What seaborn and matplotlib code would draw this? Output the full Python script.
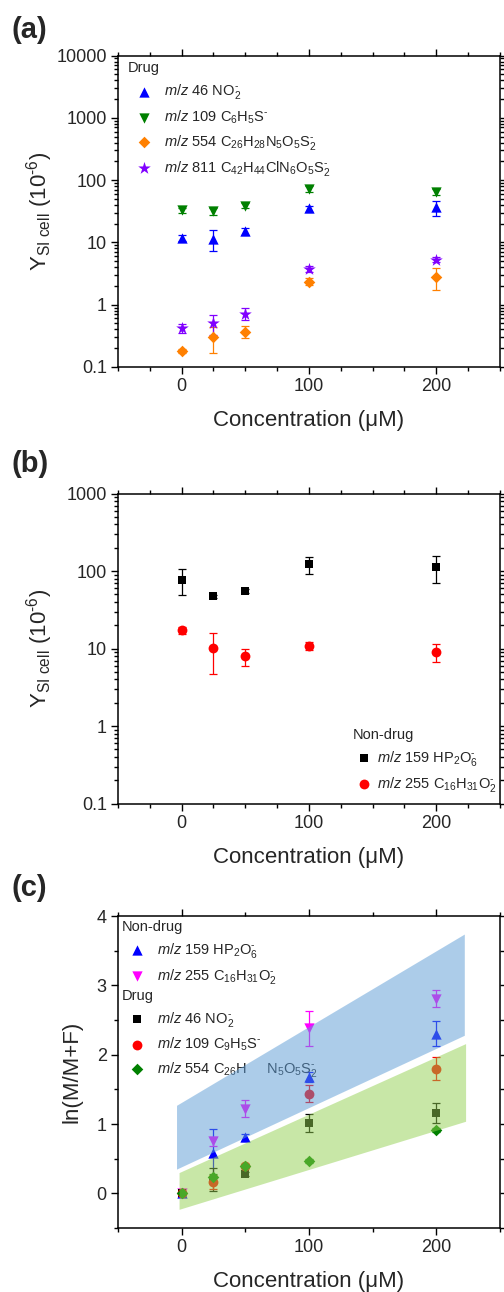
import numpy as np
import seaborn as sns
from matplotlib import pyplot as plt
from matplotlib import ticker

sns.set_style("ticks")
plt.rcParams['font.family'] = ['Liberation Sans', 'DejaVu Sans']
plt.rcParams['mathtext.fontset'] = 'custom'
plt.rcParams['mathtext.rm'] = 'Liberation Sans'
plt.rcParams['mathtext.it'] = 'Liberation Sans:italic'
plt.rcParams['mathtext.bf'] = 'Liberation Sans:bold'

# concentrations (uM)
conc = [0, 25, 50, 100, 200]

# (a) drug ions, Y_SI cell (1e-6)
a_no2 = [11.8, 11.5, 15, 35, 37]
a_no2_err = [1.2, 4.3, 2, 4, 10]
a_c6h5s = [33, 32, 39, 72, 65]
a_c6h5s_err = [3, 4, 4, 7, 7]
a_554 = [0.18, 0.30, 0.37, 2.35, 2.8]
a_554_err = [0.015, 0.13, 0.08, 0.3, 1.05]
a_811 = [0.42, 0.50, 0.72, 3.7, 5.3]
a_811_err = [0.07, 0.18, 0.15, 0.4, 0.5]

# (b) non-drug ions
b_hp2o6 = [77, 47, 55, 122, 113]
b_hp2o6_err = [28, 2, 3, 29, 42]
b_c16 = [17.2, 10.2, 8, 10.8, 9.1]
b_c16_err = [2, 5.5, 2, 1.3, 2.4]

# (c) ln(M/M+F)
c_hp2o6 = [0, 0.58, 0.81, 1.68, 2.30]
c_hp2o6_err = [0.02, 0.35, 0.05, 0.07, 0.18]
c_c16 = [0, 0.75, 1.22, 2.38, 2.81]
c_c16_err = [0.02, 0.07, 0.12, 0.25, 0.12]
c_no2 = [0, 0.20, 0.28, 1.01, 1.16]
c_no2_err = [0.02, 0.17, 0.03, 0.13, 0.14]
c_c9 = [0, 0.17, 0.39, 1.44, 1.80]
c_c9_err = [0.02, 0.1, 0.03, 0.12, 0.17]
c_554 = [0, 0.23, 0.39, 0.47, 0.91]
c_554_err = [0.02, 0.05, 0.03, 0.03, 0.03]

# shaded bands in (c)
blue_band_x = [-4, 222]
blue_band_lo = [0.35, 2.28]
blue_band_hi = [1.27, 3.74]
green_band_x = [-2, 223]
green_band_lo = [-0.23, 1.04]
green_band_hi = [0.30, 2.16]

MZ = r"$\it{m/z}$"
NEG = r"^{\text{-}}"
TICK_FS = 13
LABEL_FS = 16
LEG_FS = 10.5


def plot_series(ax, y, err, color, marker, size, label):
    ax.errorbar(conc, y, yerr=err, fmt='none', ecolor=color, elinewidth=0.9,
                capsize=3, capthick=0.9, zorder=2)
    sns.scatterplot(x=conc, y=y, marker=marker, color=color, s=size,
                    linewidth=0, ax=ax, label=label, zorder=2.2)


def style_axes(ax, minor_x):
    ax.set_xlim(-50, 250)
    ax.xaxis.set_major_locator(ticker.MultipleLocator(100))
    ax.xaxis.set_minor_locator(ticker.MultipleLocator(minor_x))
    ax.tick_params(which='both', direction='out', top=True, right=True,
                   labelsize=TICK_FS, width=1, color='black', pad=3)
    ax.tick_params(which='major', length=5)
    ax.tick_params(which='minor', length=3)
    for sp in ax.spines.values():
        sp.set_linewidth(1.1)
        sp.set_color('black')
    ax.set_xlabel("Concentration (μM)", fontsize=LABEL_FS, labelpad=11)


def log_axis(ax, lo, hi):
    ax.set_yscale('log')
    ax.set_ylim(lo, hi)
    ax.yaxis.set_major_locator(ticker.LogLocator(base=10, numticks=10))
    ax.yaxis.set_minor_locator(ticker.LogLocator(base=10, subs=np.arange(2, 10), numticks=10))
    ax.yaxis.set_major_formatter(ticker.FuncFormatter(lambda v, _: f"{v:g}"))
    ax.yaxis.set_minor_formatter(ticker.NullFormatter())


def make_legend(ax, handles, labels, title, loc, anchor, hl, htp):
    leg = ax.legend(handles, labels, title=title, loc=loc, bbox_to_anchor=anchor,
                    frameon=False, fontsize=LEG_FS, title_fontsize=LEG_FS,
                    handlelength=hl, handletextpad=htp, labelspacing=0.48,
                    borderaxespad=0.0, borderpad=0.25, alignment='left')
    leg.set_zorder(2.5)
    return leg


fig = plt.figure(figsize=(5.04, 12.92), dpi=100)
ax_a = fig.add_axes([0.234, 0.716, 0.758, 0.241])
ax_b = fig.add_axes([0.234, 0.378, 0.758, 0.240])
ax_c = fig.add_axes([0.234, 0.0495, 0.758, 0.2415])

# ---------- (a)
plot_series(ax_a, a_no2, a_no2_err, '#0000ff', '^', 55, MZ + r" 46 NO$_2" + NEG + "$")
plot_series(ax_a, a_c6h5s, a_c6h5s_err, '#008000', 'v', 55, MZ + r" 109 C$_6$H$_5$S$" + NEG + "$")
plot_series(ax_a, a_554, a_554_err, '#ff8000', 'D', 35, MZ + r" 554 C$_{26}$H$_{28}$N$_5$O$_5$S$_2" + NEG + "$")
plot_series(ax_a, a_811, a_811_err, '#8000ff', '*', 90, MZ + r" 811 C$_{42}$H$_{44}$ClN$_6$O$_5$S$_2" + NEG + "$")
style_axes(ax_a, 25)
log_axis(ax_a, 0.1, 10000)
ax_a.set_ylabel(r"Y$_{\rm SI\ cell}$ (10$^{\text{-}6}$)", fontsize=LABEL_FS)
ax_a.yaxis.set_label_coords(-0.165, 0.5)
h, l = ax_a.get_legend_handles_labels()
make_legend(ax_a, h, l, "Drug", 'upper left', (0.016, 0.993), 2.2, 0.3)

# ---------- (b)
plot_series(ax_b, b_hp2o6, b_hp2o6_err, '#000000', 's', 40, MZ + r" 159 HP$_2$O$_6" + NEG + "$")
plot_series(ax_b, b_c16, b_c16_err, '#ff0000', 'o', 50, MZ + r" 255 C$_{16}$H$_{31}$O$_2" + NEG + "$")
style_axes(ax_b, 25)
log_axis(ax_b, 0.1, 1000)
ax_b.set_ylabel(r"Y$_{\rm SI\ cell}$ (10$^{\text{-}6}$)", fontsize=LABEL_FS)
ax_b.yaxis.set_label_coords(-0.165, 0.5)
h, l = ax_b.get_legend_handles_labels()
make_legend(ax_b, h, l, "Non-drug", 'lower right', (1.0, 0.02), 1.6, 0.05)

# ---------- (c)
plot_series(ax_c, c_hp2o6, c_hp2o6_err, '#0000ff', '^', 55, MZ + r" 159 HP$_2$O$_6" + NEG + "$")
plot_series(ax_c, c_c16, c_c16_err, '#ff00ff', 'v', 55, MZ + r" 255 C$_{16}$H$_{31}$O$_2" + NEG + "$")
plot_series(ax_c, c_no2, c_no2_err, '#000000', 's', 40, MZ + r" 46 NO$_2" + NEG + "$")
plot_series(ax_c, c_c9, c_c9_err, '#ff0000', 'o', 50, MZ + r" 109 C$_9$H$_5$S$" + NEG + "$")
plot_series(ax_c, c_554, c_554_err, '#008000', 'D', 35, MZ + r" 554 C$_{26}$H     N$_5$O$_5$S$_2" + NEG + "$")
ax_c.fill_between(blue_band_x, blue_band_lo, blue_band_hi, color='#5b9bd5',
                  alpha=0.5, linewidth=0, zorder=3)
ax_c.fill_between(green_band_x, green_band_lo, green_band_hi, color='#92d050',
                  alpha=0.5, linewidth=0, zorder=3)
style_axes(ax_c, 50)
ax_c.set_ylim(-0.5, 4)
ax_c.yaxis.set_major_locator(ticker.MultipleLocator(1))
ax_c.yaxis.set_minor_locator(ticker.MultipleLocator(0.5))
ax_c.set_ylabel("ln(M/M+F)", fontsize=LABEL_FS)
ax_c.yaxis.set_label_coords(-0.094, 0.5)
h, l = ax_c.get_legend_handles_labels()
leg1 = make_legend(ax_c, h[:2], l[:2], "Non-drug", 'upper left', (0.0, 1.0), 2.05, 0.35)
ax_c.add_artist(leg1)
make_legend(ax_c, h[2:], l[2:], "Drug", 'upper left', (0.0, 0.779), 2.05, 0.35)

# panel letters
fig.text(0.022, 0.977, "(a)", fontsize=21, fontweight='bold', va='center')
fig.text(0.022, 0.641, "(b)", fontsize=21, fontweight='bold', va='center')
fig.text(0.022, 0.313, "(c)", fontsize=21, fontweight='bold', va='center')

fig.savefig("out.png", dpi=100)
